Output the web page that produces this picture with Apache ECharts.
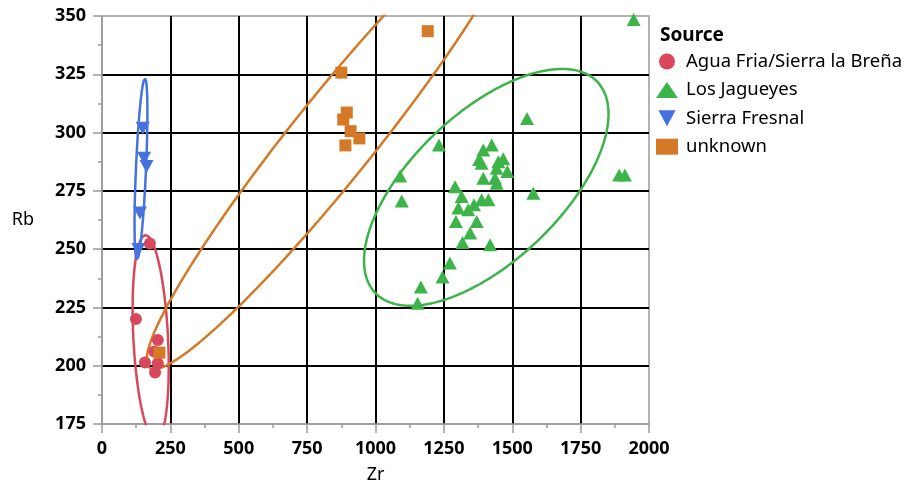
<!DOCTYPE html>
<html>
<head>
<meta charset="utf-8">
<script src="https://cdn.jsdelivr.net/npm/echarts@6/dist/echarts.min.js"></script>
<style>
html,body{margin:0;padding:0;background:#fff;}
#chart{width:912px;height:489px;}
</style>
</head>
<body>
<div id="chart"></div>
<script>
// ---- data ----
const groupNames = ['Agua Fria/Sierra la Breña', 'Los Jagueyes', 'Sierra Fresnal', 'unknown'];

const zrAgua = [175, 124, 204, 191, 157, 204, 194];
const rbAgua = [252.4, 220, 211, 206.1, 201.4, 201.1, 197.1];

const zrJag = [1554, 1232, 1090, 1096, 1394, 1425, 1379, 1388, 1449, 1467, 1443, 1482, 1394, 1437, 1443,
  1291, 1315, 1303, 1339, 1360, 1388, 1413, 1294, 1370, 1346, 1318, 1419, 1272, 1245, 1166, 1154, 1577, 1891, 1912, 1944];
const rbJag = [306, 294.7, 281.4, 270.7, 292.5, 294.7, 288.5, 286.8, 287.5, 288.8, 284.7, 283.3, 280.4, 280.4, 278.3,
  276.8, 272.6, 267.6, 266.9, 269, 271.2, 271.2, 261.9, 261.9, 256.9, 252.8, 251.9, 244.1, 238, 233.8, 226.8, 274, 281.8, 281.8, 348.5];

const zrFres = [149, 154, 163, 139, 133];
const rbFres = [301.8, 289, 285.4, 265.5, 249.8];

const zrUnk = [1191, 875, 895, 882, 909, 941, 890, 210];
const rbUnk = [343.5, 325.7, 308.6, 305.6, 300.6, 297.5, 294.5, 205.6];

// density ellipse parameters (per group, same order as groupNames)
const ellCenterZr = [178, 1405, 142.5, 849];
const ellCenterRb = [212, 276.5, 284.4, 298];
const ellHalfZr = [66, 447, 23.5, 686];
const ellHalfRb = [44, 50.8, 38.8, 99.5];
const ellCorr = [-0.28, 0.62, 0.62, 0.96];

const xTicks = [0, 250, 500, 750, 1000, 1250, 1500, 1750, 2000];
const yTicks = [175, 200, 225, 250, 275, 300, 325, 350];

// ---- style ----
const colors = ['#d9475b', '#3db449', '#4572e0', '#d47926'];
const FONT = 'Noto Sans';
const GRAY = '#9a9a9a';

function pairs(xs, ys) { return xs.map((x, i) => [x, ys[i]]); }
function ellipse(i) {
  const pts = [];
  const n = 240;
  const s = Math.sqrt(1 - ellCorr[i] * ellCorr[i]);
  for (let k = 0; k <= n; k++) {
    const t = 2 * Math.PI * k / n;
    pts.push([
      ellCenterZr[i] + ellHalfZr[i] * Math.cos(t),
      ellCenterRb[i] + ellHalfRb[i] * (ellCorr[i] * Math.cos(t) + s * Math.sin(t))
    ]);
  }
  return pts;
}

const scatterData = [pairs(zrAgua, rbAgua), pairs(zrJag, rbJag), pairs(zrFres, rbFres), pairs(zrUnk, rbUnk)];
const symbols = ['circle', 'triangle', 'triangle', 'rect'];
const symbolSizes = [12, [14, 13], [14, 13], 12];
const rotates = [0, 0, 180, 0];

function gridColors(n) {
  const a = [];
  for (let i = 0; i < n; i++) a.push(i === 0 || i === n - 1 ? 'rgba(0,0,0,0)' : '#000');
  return a;
}

const series = [];
for (let i = 0; i < 4; i++) {
  series.push({
    name: 'ell' + i,
    type: 'line',
    data: ellipse(i),
    showSymbol: false,
    smooth: false,
    clip: true,
    silent: true,
    lineStyle: { color: colors[i], width: 2.5 },
    z: 3
  });
}
for (let i = 0; i < 4; i++) {
  series.push({
    name: groupNames[i],
    type: 'scatter',
    data: scatterData[i],
    symbol: symbols[i],
    symbolSize: symbolSizes[i],
    symbolRotate: rotates[i],
    itemStyle: { color: colors[i], opacity: 1 },
    clip: true,
    z: 4
  });
}

const labelStyle = { fontFamily: FONT, fontSize: 18, fontWeight: 'bold', color: '#000', margin: 16,
  formatter: v => String(v) };

// minor-tick helper axes (ticks only, half intervals)
function minorAxis(min, max, interval, pos) {
  return {
    type: 'value', min: min, max: max, interval: interval / 2, position: pos,
    axisLine: { show: false }, axisLabel: { show: false }, splitLine: { show: false },
    axisTick: { show: true, length: 4, lineStyle: { color: GRAY, width: 1.5 } }
  };
}

const chart = echarts.init(document.getElementById('chart'), null, { renderer: 'canvas' });
chart.setOption({
  animation: false,
  backgroundColor: '#fff',
  textStyle: { fontFamily: FONT },
  title: {
    text: 'Source',
    left: 655, top: 21,
    textStyle: { fontFamily: FONT, fontSize: 19, fontWeight: 'bold', color: '#000' }
  },
  legend: {
    data: [
      { name: groupNames[0], icon: 'circle' },
      { name: groupNames[1], icon: 'triangle' },
      { name: groupNames[2], icon: 'path://M0,0 L14,0 L7,13 Z' },
      { name: groupNames[3], icon: 'rect' }
    ],
    orient: 'vertical',
    left: 651, top: 47,
    itemWidth: 22, itemHeight: 16, itemGap: 9.4,
    selectedMode: false,
    textStyle: { fontFamily: FONT, fontSize: 18.5, color: '#000', padding: [0, 0, 0, 3] }
  },
  grid: { left: 102, right: 263, top: 16, bottom: 64, show: true, borderColor: GRAY, borderWidth: 1.5 },
  xAxis: [{
    type: 'value', min: xTicks[0], max: xTicks[xTicks.length - 1], interval: 250,
    name: 'Zr', nameLocation: 'middle', nameGap: 42,
    nameTextStyle: { fontFamily: FONT, fontSize: 18, color: '#000' },
    axisLine: { show: true, lineStyle: { color: GRAY, width: 1.5 } },
    axisTick: { show: true, length: 9, lineStyle: { color: GRAY, width: 1.5 } },
    axisLabel: labelStyle,
    splitLine: { show: true, lineStyle: { color: gridColors(xTicks.length), width: 2 } }
  }, minorAxis(xTicks[0], xTicks[xTicks.length - 1], 250, 'bottom')],
  yAxis: [{
    type: 'value', min: yTicks[0], max: yTicks[yTicks.length - 1], interval: 25,
    name: 'Rb', nameLocation: 'middle', nameGap: 68, nameRotate: 0,
    nameTextStyle: { fontFamily: FONT, fontSize: 18, color: '#000' },
    axisLine: { show: true, lineStyle: { color: GRAY, width: 1.5 } },
    axisTick: { show: true, length: 9, lineStyle: { color: GRAY, width: 1.5 } },
    axisLabel: labelStyle,
    splitLine: { show: true, lineStyle: { color: gridColors(yTicks.length), width: 2 } }
  }, minorAxis(yTicks[0] - 0, yTicks[yTicks.length - 1], 25, 'left')],
  series: series
});
</script>
</body>
</html>
